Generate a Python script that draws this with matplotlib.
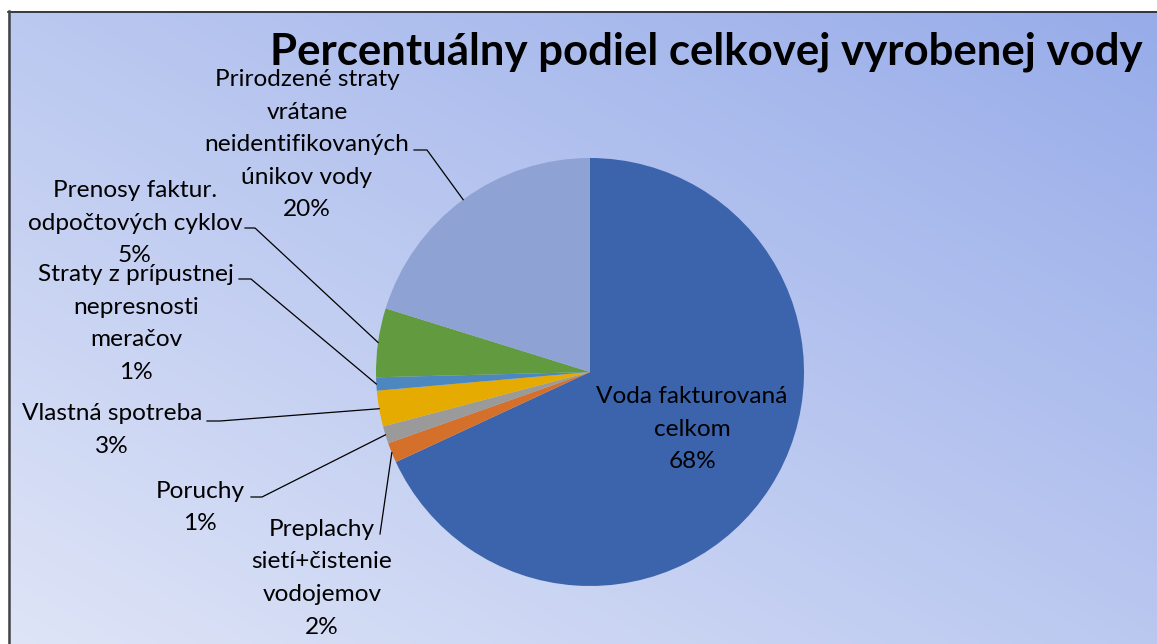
import numpy as np
import matplotlib
matplotlib.use("Agg")
import matplotlib.pyplot as plt

plt.rcParams['font.family'] = ['Lato', 'DejaVu Sans']

# ---------------- data ----------------
title = "Percentuálny podiel celkovej vyrobenej vody"
categories = [
    "Voda fakturovaná\ncelkom",
    "Preplachy\nsietí+čistenie\nvodojemov",
    "Poruchy",
    "Vlastná spotreba",
    "Straty z prípustnej\nnepresnosti\nmeračov",
    "Prenosy faktur.\nodpočtových cyklov",
    "Prirodzené straty\nvrátane\nneidentifikovaných\núnikov vody",
]
values = [68.1, 1.52, 1.3, 2.7, 1.0, 5.2, 20.2]
colors = ['#3c64ad', '#d5702b', '#9a9a9a', '#e5ab00', '#4d87bf', '#629b3f', '#8fa2d4']

# ---------------- layout (pixels) ----------------
W, H = 1157, 644
center = (590, 372)
radius = 214
# label block: (center x, first-line center y)
label_pos = [(692, 395), (322, 528), (200, 490), (112, 412), (136, 273), (135, 189), (307, 78)]
# leader: (x start, y, x end of horizontal part) or None
leaders = [None, (380, 534, 380), (251, 497, 262), (207, 421, 220),
           (239, 279, 251), (245, 228, 255), (414, 150, 427)]
line_step = 32.5
fs = 17.6

fig = plt.figure(figsize=(W / 100, H / 100), dpi=100)
ax = fig.add_axes([0, 0, 1, 1])

# background gradient (light bottom-left -> darker blue top-right)
yy, xx = np.mgrid[0:H, 0:W]
t = 0.5 * (xx / W) + 0.5 * (1 - yy / H)
c0 = np.array([223, 229, 247]) / 255
c1 = np.array([150, 171, 233]) / 255
img = c0[None, None, :] * (1 - t[..., None]) + c1[None, None, :] * t[..., None]
ax.imshow(img, extent=(0, W, H, 0), aspect='auto', zorder=0, interpolation='bilinear')

# white margin + border
ax.fill_between([0, W], 0, 11, color='white', zorder=1, lw=0)
ax.fill_between([0, 8], 0, H, color='white', zorder=1, lw=0)
ax.plot([8, W], [11.5, 11.5], color='#222222', lw=1.2, zorder=2)
ax.plot([8.5, 8.5], [11, H], color='#444444', lw=1.8, zorder=2)

# pie (y axis inverted -> startangle 270 & counterclock draws clockwise from top)
wedges, _ = ax.pie(values, colors=colors, startangle=270, counterclock=True,
                   center=center, radius=radius, frame=True,
                   wedgeprops=dict(linewidth=0))
for w in wedges:
    w.set_zorder(3)

total = sum(values)
for i, (w, lab) in enumerate(zip(wedges, categories)):
    pct = f"{values[i] / total * 100:.0f}%"
    lines = lab.split("\n") + [pct]
    cx, cy = label_pos[i]
    for k, ln in enumerate(lines):
        ax.text(cx, cy + k * line_step + 8, ln, ha='center', va='baseline',
                fontsize=fs, color='black', zorder=5)
    if leaders[i] is not None:
        x0, ly, x1 = leaders[i]
        mid = np.deg2rad((w.theta1 + w.theta2) / 2)
        ex = center[0] + radius * np.cos(mid)
        ey = center[1] + radius * np.sin(mid)
        ax.plot([x0, x1, ex], [ly, ly, ey], color='black', lw=0.9, zorder=4)

ax.text(270, 64, title, ha='left', va='baseline', fontsize=31.5, fontweight='bold',
        color='black', zorder=5)

ax.set_xlim(0, W)
ax.set_ylim(H, 0)
ax.set_aspect('equal')
ax.set_axis_off()

fig.savefig("out.png", dpi=100)
